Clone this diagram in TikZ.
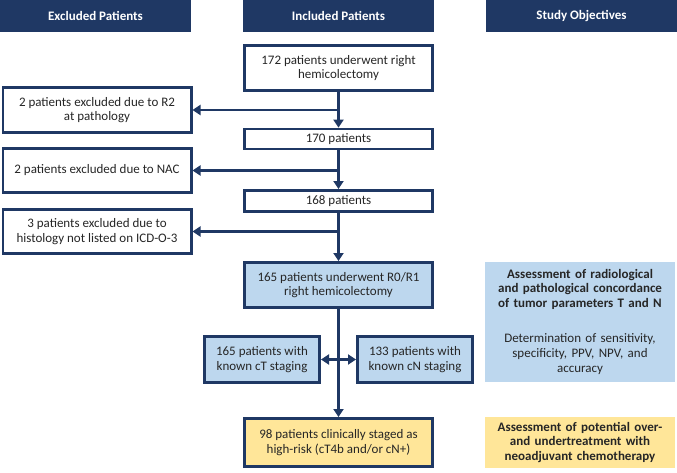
\documentclass[tikz,border=0pt]{standalone}
\usepackage{fontspec}
\setmainfont{Carlito}
\usetikzlibrary{arrows.meta}
\definecolor{navy}{HTML}{1F3864}
\definecolor{lblue}{HTML}{BDD7EE}
\definecolor{lyellow}{HTML}{FFE699}
\definecolor{txt}{HTML}{262626}
\begin{document}
\begin{tikzpicture}[x=1pt,y=-1pt,
  every node/.style={font=\fontsize{13}{14.8}\selectfont, text=txt, align=center, inner sep=2pt},
  hdr/.style={fill=navy, text=white, font=\fontsize{13}{15}\selectfont\bfseries, minimum width=191pt, minimum height=32pt},
  box/.style={draw=navy, line width=2.7pt, fill=white, minimum width=188.3pt},
  bbox/.style={box, fill=lblue},
  ybox/.style={box, fill=lyellow},
  obj/.style={minimum width=190pt, text width=186pt},
  arr/.style={draw=navy, line width=2.7pt, -{Triangle[length=8pt,width=10pt]}}
]
\useasboundingbox (0,0) rectangle (677,472);
\node[hdr] (h1) at (95.5,16) {Excluded Patients};
\node[hdr] (h2) at (338.5,16) {Included Patients};
\node[hdr] (h3) at (581.5,16) {Study Objectives};

\node[box, minimum height=45.3pt] (b172) at (338.5,68) {172 patients underwent right\\hemicolectomy};
\node[box, minimum height=20pt] (b170) at (338.5,139) {170 patients};
\node[box, minimum height=21.3pt] (b168) at (338.5,201) {168 patients};
\node[bbox, minimum height=45.3pt] (b165) at (338.5,285) {165 patients underwent R0/R1\\right hemicolectomy};
\node[ybox, minimum height=48.3pt] (b98) at (338.5,442.5) {98 patients clinically staged as\\high-risk (cT4b and/or cN+)};

\node[box, minimum height=45.3pt] (r2) at (97,110) {2 patients excluded due to R2\\at pathology};
\node[box, minimum height=44.3pt] (nac) at (97,170.5) {2 patients excluded due to NAC};
\node[box, minimum height=44.3pt] (icd) at (97,231.5) {3 patients excluded due to\\histology not listed on ICD-O-3};

\node[bbox, minimum width=115.3pt, minimum height=46.3pt] (ct) at (262,359.5) {165 patients with\\known cT staging};
\node[bbox, minimum width=115.3pt, minimum height=46.3pt] (cn) at (415,359.5) {133 patients with\\known cN staging};

\node[obj, fill=lblue, minimum height=120pt] (o1) at (580,321.5) {\textbf{Assessment of radiological}\\\textbf{and pathological concordance}\\\textbf{of tumor parameters T and N}\\[20pt]Determination of sensitivity,\\specificity, PPV, NPV, and\\accuracy};
\node[obj, fill=lyellow, minimum height=51pt] (o2) at (580,442.5) {\textbf{Assessment of potential over-}\\\textbf{and undertreatment with}\\\textbf{neoadjuvant chemotherapy}};

\draw[arr] (b172) -- (b170);
\draw[arr] (b170) -- (b168);
\draw[arr] (b168) -- (b165);
\draw[arr] (b165) -- (b98);
\draw[arr] (b172.south |- r2.east) -- (r2.east);
\draw[arr] (b170.south |- nac.east) -- (nac.east);
\draw[arr] (b168.south |- icd.east) -- (icd.east);
\coordinate (mid) at (b165.south |- ct.east);
\draw[arr] (mid) -- (ct.east);
\draw[arr] (mid) -- (cn.west);
\end{tikzpicture}
\end{document}
